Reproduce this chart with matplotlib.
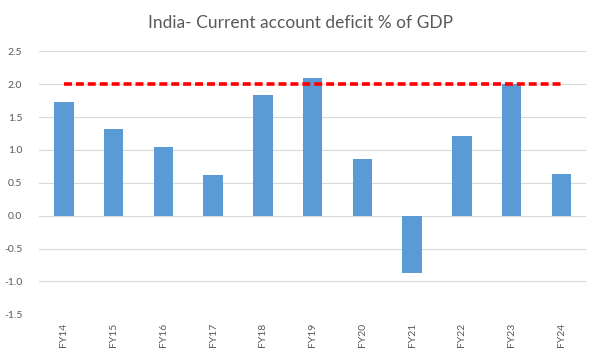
import matplotlib.pyplot as plt
import numpy as np

plt.rcParams["font.family"] = ["Lato", "DejaVu Sans"]

# Data
years = ["FY14", "FY15", "FY16", "FY17", "FY18", "FY19",
         "FY20", "FY21", "FY22", "FY23", "FY24"]
cad_pct_gdp = [1.73, 1.32, 1.05, 0.62, 1.84, 2.10,
               0.86, -0.88, 1.22, 2.00, 0.64]
threshold = [2.0] * len(years)
y_ticks = [-1.5, -1.0, -0.5, 0.0, 0.5, 1.0, 1.5, 2.0, 2.5]

fig = plt.figure(figsize=(6.0, 3.55), dpi=100)
ax = fig.add_axes([0.065, 0.115, 0.912, 0.74])

x = np.arange(len(years))
ax.bar(x, cad_pct_gdp, width=0.39, color="#5B9BD5", zorder=3)
ax.plot(x, threshold, color="#FF0000", linestyle=(0, (2.2, 1.1)),
        linewidth=2.6, zorder=4)

ax.set_xlim(-0.5, len(years) - 0.5)
ax.set_ylim(-1.5, 2.5)
ax.set_yticks(y_ticks)
ax.set_yticklabels([f"{v:.1f}" for v in y_ticks])
ax.set_xticks(x)
ax.set_xticklabels(years, rotation=90)
ax.tick_params(axis="both", length=0, labelsize=7.5, colors="#595959")
ax.tick_params(axis="x", pad=6)
ax.tick_params(axis="y", pad=12)
ax.grid(axis="y", color="#D9D9D9", linewidth=0.8, zorder=0)
for side in ["top", "right", "left", "bottom"]:
    ax.spines[side].set_visible(False)

fig.text(0.5, 0.935, "India- Current account deficit % of GDP",
         ha="center", va="center", fontsize=12.5, color="#595959")

fig.savefig("out.png", dpi=100)
